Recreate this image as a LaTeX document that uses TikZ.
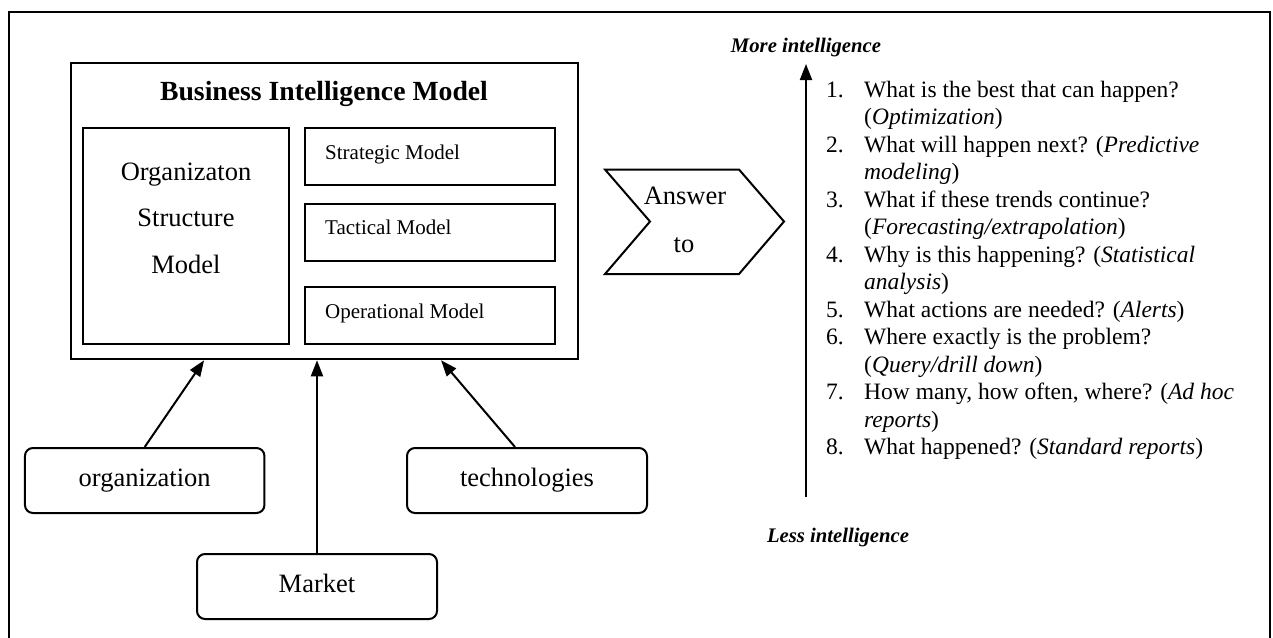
\documentclass[tikz,border=0pt]{standalone}
\usepackage{fontspec}
\setmainfont{Liberation Serif}
\usetikzlibrary{arrows.meta}
\begin{document}
\begin{tikzpicture}[x=1pt,y=-1pt,
  lw/.style={line width=2pt},
  box/.style={draw, lw, inner sep=0pt},
  rbox/.style={draw, lw, rounded corners=8pt, minimum width=240pt, minimum height=65pt,
    inner sep=0pt, font=\fontsize{26.5}{30}\selectfont, text height=17.5pt, text depth=5.8pt},
  arr/.style={line width=2pt, -{Triangle[length=16pt,width=12pt]}},
  big/.style={inner sep=0pt, anchor=base, font=\fontsize{26.5}{30}\selectfont},
  small/.style={inner sep=0pt, anchor=base west, font=\fontsize{21}{25}\selectfont},
  axlbl/.style={inner sep=0pt, anchor=base, font=\fontsize{20.7}{24}\selectfont\bfseries\itshape}
]
\useasboundingbox (0,0) rectangle (1273,637);
% outer frame (open at the bottom)
\draw[lw] (9,650) -- (9,12) -- (1270,12) -- (1270,650);

% Business Intelligence Model
\node[box, minimum width=507pt, minimum height=296pt] (bi) at (324.1,211.3) {};
\node[inner sep=0pt, anchor=base, font=\fontsize{27.7}{32}\selectfont\bfseries] (bititle) at (324,100) {Business Intelligence Model};

\node[box, minimum width=206pt, minimum height=216pt] (osm) at (186,236) {};
\node[big] (osm1) at (186,180) {Organizaton};
\node[big] (osm2) at (186,226.5) {Structure};
\node[big] (osm3) at (186,273) {Model};

\node[box, minimum width=250pt, minimum height=57pt] (strat) at (430,156.5) {};
\node[small] (stratl) at (325,159) {Strategic Model};
\node[box, minimum width=250pt, minimum height=56.7pt] (tact) at (430,232.3) {};
\node[small] (tactl) at (325,234) {Tactical Model};
\node[box, minimum width=250pt, minimum height=57pt] (oper) at (430,315.5) {};
\node[small] (operl) at (325,318) {Operational Model};

% inputs
\node[rbox, minimum width=239.5pt] (orgn) at (144.7,480.5) {organization};
\node[rbox] (tech) at (527,480.5) {technologies};
\node[rbox] (mkt) at (317,586.5) {Market};

\draw[arr] (orgn.north) -- ([xshift=-120pt]bi.south);
\draw[arr] (mkt.north) -- (mkt.north |- bi.south);
\draw[arr] ([xshift=-12pt]tech.north) -- ([xshift=117pt]bi.south);

% Answer to
\draw[lw, line join=miter] (605,169.5) -- (739,169.5) -- (784,221.5) -- (739,274) -- (605,274) -- (650,221.5) -- cycle;
\node[big] (ans1) at (685,204) {Answer};
\node[big] (ans2) at (684,252) {to};

% intelligence axis
\coordinate (axbot) at (806,497);
\coordinate (axtop) at (806,64);
\draw[arr] (axbot) -- (axtop);
\node[axlbl] (more) at (806,52) {More intelligence};
\node[axlbl] (less) at (838,542) {Less intelligence};

\node[inner sep=0pt, anchor=base west, font=\fontsize{23.5}{27.5}\selectfont] (list) at (826,97) {%
\begin{tabular}[t]{@{}p{38pt}@{}l@{}}
1. & What is the best that can happen?\\
   & (\textit{Optimization})\\
2. & What will happen next? (\textit{Predictive}\\
   & \textit{modeling})\\
3. & What if these trends continue?\\
   & (\textit{Forecasting/extrapolation})\\
4. & Why is this happening? (\textit{Statistical}\\
   & \textit{analysis})\\
5. & What actions are needed? (\textit{Alerts})\\
6. & Where exactly is the problem?\\
   & (\textit{Query/drill down})\\
7. & How many, how often, where? (\textit{Ad hoc}\\
   & \textit{reports})\\
8. & What happened? (\textit{Standard reports})
\end{tabular}};
\end{tikzpicture}
\end{document}
